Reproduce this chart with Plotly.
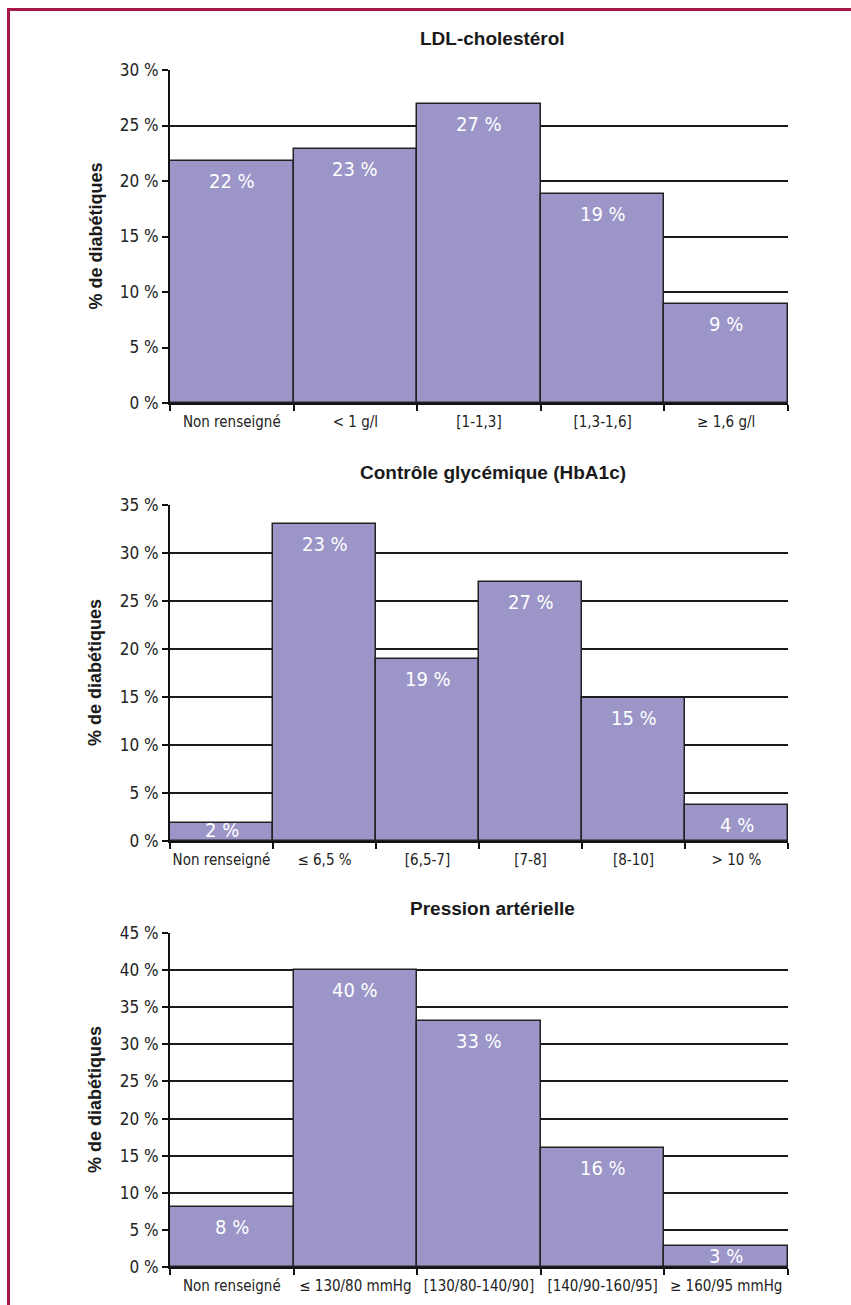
import plotly.graph_objects as go

# ---------------- data ----------------
ldl_cats = ["Non renseigné", "< 1 g/l", "[1-1,3]", "[1,3-1,6]", "≥ 1,6 g/l"]
ldl_vals = [21.8, 22.9, 26.9, 18.8, 8.9]
ldl_labels = ["22 %", "23 %", "27 %", "19 %", "9 %"]

hba_cats = ["Non renseigné", "≤ 6,5 %", "[6,5-7]", "[7-8]", "[8-10]", "> 10 %"]
hba_vals = [1.9, 33.0, 19.0, 27.0, 14.9, 3.8]
hba_labels = ["2 %", "23 %", "19 %", "27 %", "15 %", "4 %"]

pa_cats = ["Non renseigné", "≤ 130/80 mmHg", "[130/80-140/90]", "[140/90-160/95]", "≥ 160/95 mmHg"]
pa_vals = [8.1, 40.0, 33.2, 16.0, 2.8]
pa_labels = ["8 %", "40 %", "33 %", "16 %", "3 %"]

titles = ["LDL-cholestérol", "Contrôle glycémique (HbA1c)", "Pression artérielle"]
y_max = [30, 35, 45]
y_title = "% de diabétiques"

# ---------------- layout geometry (pixels) ----------------
W, H = 851, 1305
px_x = lambda p: p / W
px_y = lambda p: 1 - p / H

plot_left, plot_right = 170, 788
panels_px = [(70, 403), (505, 841), (933, 1267)]   # (top, bottom)
title_y_px = [38, 472, 908]

NARROW = "DejaVu Sans Condensed, Liberation Sans Narrow, sans-serif"
BOLD = "Liberation Sans, Arial, Helvetica, sans-serif"
BAR_COLOR = "#9b95c8"
BORDER = "#a8174b"

datasets = [
    (ldl_cats, ldl_vals, ldl_labels),
    (hba_cats, hba_vals, hba_labels),
    (pa_cats, pa_vals, pa_labels),
]

fig = go.Figure()
annotations = []

for i, (cats, vals, labels) in enumerate(datasets):
    n = i + 1
    xa = "x" if n == 1 else f"x{n}"
    ya = "y" if n == 1 else f"y{n}"
    fig.add_trace(go.Bar(
        x=cats, y=vals, xaxis=xa, yaxis=ya,
        marker=dict(color=BAR_COLOR, line=dict(color="#222222", width=1.5)),
        hoverinfo="skip", showlegend=False,
    ))
    top, bottom = panels_px[i]
    ppu = (bottom - top) / y_max[i]
    axkey = "" if n == 1 else str(n)
    fig.update_layout(**{
        f"xaxis{axkey}": dict(
            domain=[px_x(plot_left), px_x(plot_right)],
            anchor=ya, type="category", tickangle=0,
            showline=True, linecolor="#111111", linewidth=2,
            ticks="outside", tickson="boundaries", ticklen=6, tickwidth=1.5, tickcolor="#111111",
            ticklabelstandoff=4,
            showgrid=False, zeroline=False,
            tickfont=dict(family=NARROW, size=15, color="#222222"),
            automargin=False, fixedrange=True,
        ),
        f"yaxis{axkey}": dict(
            domain=[px_y(bottom), px_y(top)],
            anchor=xa, range=[0, y_max[i]], dtick=5, ticksuffix=" %",
            showline=True, linecolor="#111111", linewidth=2,
            ticks="outside", ticklen=6, tickwidth=1.5, tickcolor="#111111",
            showgrid=True, gridcolor="#1a1a1a", gridwidth=2,
            zeroline=False,
            tickfont=dict(family=NARROW, size=17, color="#222222"),
            automargin=False, fixedrange=True,
        ),
    })
    # bar value labels (inside end, kept above the axis like the original)
    for c, v, lab in zip(cats, vals, labels):
        shift = min(20, v * ppu - 11)
        annotations.append(dict(
            x=c, y=v, xref=xa, yref=ya, text=lab, showarrow=False,
            yanchor="middle", yshift=-shift,
            font=dict(family=NARROW, size=20, color="white"),
        ))
    # panel title
    annotations.append(dict(
        x=px_x(493), y=px_y(title_y_px[i]), xref="paper", yref="paper",
        text=f"<b>{titles[i]}</b>", showarrow=False,
        xanchor="center", yanchor="middle",
        font=dict(family=BOLD, size=19, color="#1a1a1a"),
    ))
    # y axis title
    annotations.append(dict(
        x=px_x(95), y=px_y((top + bottom) / 2), xref="paper", yref="paper",
        text=f"<b>{y_title}</b>", showarrow=False, textangle=-90,
        xanchor="center", yanchor="middle",
        font=dict(family=BOLD, size=18, color="#1a1a1a"),
    ))

shapes = [
    dict(type="line", xref="paper", yref="paper",
         x0=px_x(8), x1=px_x(W + 5), y0=px_y(9.5), y1=px_y(9.5),
         line=dict(color=BORDER, width=3)),
    dict(type="line", xref="paper", yref="paper",
         x0=px_x(8.5), x1=px_x(8.5), y0=px_y(8), y1=px_y(H + 5),
         line=dict(color=BORDER, width=3)),
]

fig.update_layout(
    width=W, height=H,
    margin=dict(l=0, r=0, t=0, b=0),
    paper_bgcolor="white", plot_bgcolor="white",
    bargap=0, showlegend=False,
    annotations=annotations, shapes=shapes,
)

fig.write_html("out.html", config={"displayModeBar": False})
